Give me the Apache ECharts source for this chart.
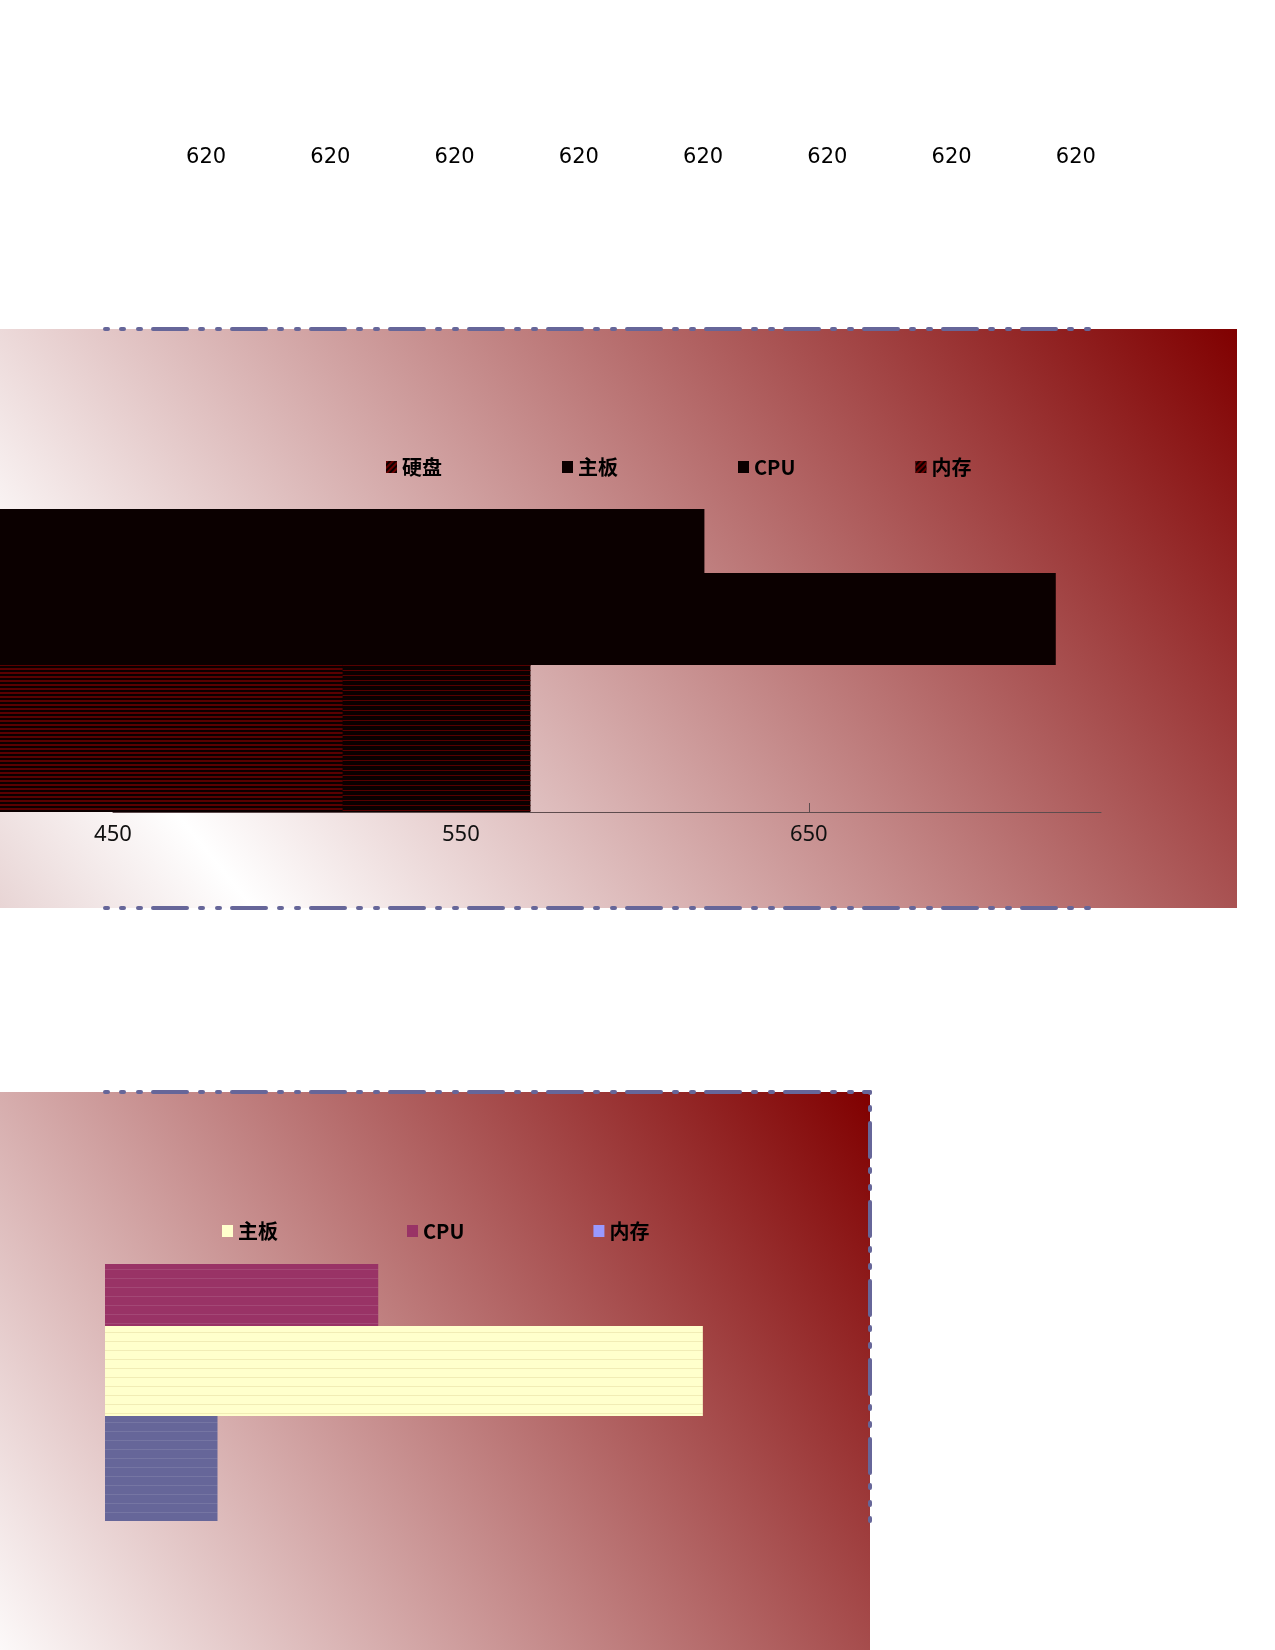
<!DOCTYPE html>
<html>
<head>
<meta charset="utf-8">
<script src="https://cdn.jsdelivr.net/npm/echarts@6/dist/echarts.min.js"></script>
<style>
  html, body { margin: 0; padding: 0; background: #fff; }
  #main { width: 1275px; height: 1650px; }
</style>
</head>
<body>
<div id="main"></div>
<script>
// 数据
var topLabels = ['620', '620', '620', '620', '620', '620', '620', '620'];
var slot = ['配件'];
var legendA = ['硬盘', '主板', 'CPU', '内存'];
var legendB = ['主板', 'CPU', '内存'];
var partsA = ['CPU', '主板', '内存'];
var valuesA = [620, 721, 570];
var diskValue = [516];
var partsB = ['CPU', '主板', '内存'];
var valuesB = [620, 721, 570];

// 样式
var barWidthA = [64, 92, 147];
var barWidthB = [62, 90, 105];
var colorsB = ['#993366', '#ffffcc', '#666699'];
var legendColorsB = ['#ffffcc', '#993366', '#9999ff'];
var ink = '#0b0000';

var dash = { color: '#666699', width: 4, type: [34, 13, 3, 14, 3, 12], dashOffset: 31 };
var memDecal = { symbol: 'rect', symbolSize: 1, dashArrayX: [1, 0], dashArrayY: [1, 4], rotation: 0, color: '#560000' };
var diskDecal = { symbol: 'rect', symbolSize: 1, dashArrayX: [1, 0], dashArrayY: [2, 2], rotation: 0, color: '#5a0000' };
var iconDecal = { symbol: 'rect', symbolSize: 1, dashArrayX: [1, 0], dashArrayY: [2, 2], rotation: -Math.PI / 4, color: '#6a0000' };
var noDecal = { symbol: 'rect', dashArrayX: [1, 0], dashArrayY: [1, 0], color: 'rgba(0,0,0,0)' };
var faintDecal = [
    { symbol: 'rect', symbolSize: 1, dashArrayX: [1, 0], dashArrayY: [1, 8], rotation: 0, color: 'rgba(255,255,255,0.10)' },
    { symbol: 'rect', symbolSize: 1, dashArrayX: [1, 0], dashArrayY: [1, 8], rotation: 0, color: 'rgba(190,170,100,0.22)' },
    { symbol: 'rect', symbolSize: 1, dashArrayX: [1, 0], dashArrayY: [1, 8], rotation: 0, color: 'rgba(255,255,255,0.10)' }
];

// 背景渐变, 右上角深红
function boxGradient(right, top, w, h, stops) {
    return {
        type: 'linear', global: true,
        x: right - w, y: top + h, x2: right, y2: top,
        colorStops: stops
    };
}
var stopsA = [
    { offset: 0, color: '#c99b9b' },
    { offset: 0.29, color: '#ffffff' },
    { offset: 1, color: '#800000' }
];
var stopsB = [
    { offset: 0, color: '#ffffff' },
    { offset: 1, color: '#800000' }
];

var hidden = { show: false };
var lineOnly = function (gridIndex, position, type) {
    return {
        gridIndex: gridIndex, type: type || 'value', position: position,
        axisLine: { show: true, onZero: false, lineStyle: dash },
        axisTick: hidden, axisLabel: hidden, splitLine: hidden
    };
};

var chart = echarts.init(document.getElementById('main'));

var series = [];
partsA.forEach(function (name, i) {
    series.push({
        name: name, type: 'bar', xAxisIndex: 5, yAxisIndex: 4,
        data: [valuesA[i]], barWidth: barWidthA[i], barGap: 0, clip: false,
        itemStyle: { color: ink, decal: name === '内存' ? memDecal : null }
    });
});
series.push({
    name: '硬盘', type: 'bar', xAxisIndex: 6, yAxisIndex: 5,
    data: diskValue, barWidth: 147, clip: false,
    itemStyle: { color: ink, decal: diskDecal }
});
partsB.forEach(function (name, i) {
    series.push({
        name: name, type: 'bar', xAxisIndex: 8, yAxisIndex: 7,
        data: [valuesB[i]], barWidth: barWidthB[i], barGap: 0,
        itemStyle: { color: colorsB[i], decal: faintDecal[i] }
    });
});

var legendText = { fontFamily: 'Noto Sans CJK SC', fontWeight: 'bold', fontSize: 20, color: '#000' };

var option = {
    animation: false,
    aria: { enabled: false },
    legend: [{
        left: 386, top: 457, padding: 0, itemGap: 120, itemWidth: 11, itemHeight: 12, icon: 'rect',
        textStyle: legendText,
        data: legendA.map(function (n) {
            return (n === '硬盘' || n === '内存') ? { name: n, itemStyle: { decal: iconDecal } } : n;
        })
    }, {
        left: 222, top: 1221, padding: 0, itemGap: 129, itemWidth: 11, itemHeight: 12, icon: 'rect',
        textStyle: legendText,
        data: legendB.map(function (n, i) {
            return { name: n, itemStyle: { color: legendColorsB[i], decal: noDecal } };
        })
    }],
    grid: [
        { left: 144, top: 80, width: 994, height: 59, outerBoundsMode: 'none' },
        { left: 0, top: 329, width: 1237, height: 579, show: true, borderWidth: 0, z: -1,
          backgroundColor: boxGradient(1237, 329, 1237, 1000, stopsA), outerBoundsMode: 'none' },
        { left: 0, top: 1092, width: 870, height: 600, show: true, borderWidth: 0, z: -1,
          backgroundColor: boxGradient(870, 1092, 870, 600, stopsB), outerBoundsMode: 'none' },
        { left: 105, top: 329, width: 995, height: 579, outerBoundsMode: 'none' },
        { left: 113, top: 509, width: 988, height: 303, outerBoundsMode: 'none' },
        { left: 113, top: 665, width: 988, height: 147, outerBoundsMode: 'none' },
        { left: 105, top: 1092, width: 765, height: 429, outerBoundsMode: 'none' },
        { left: 105, top: 1264, width: 765, height: 257, outerBoundsMode: 'none' }
    ],
    xAxis: [
        { gridIndex: 0, type: 'category', data: topLabels,
          axisLine: hidden, axisTick: hidden, splitLine: hidden,
          axisLabel: { interval: 0, fontFamily: 'DejaVu Sans', fontSize: 21, color: '#000', margin: 8 } },
        { gridIndex: 1, type: 'value', show: false },
        { gridIndex: 2, type: 'value', show: false },
        lineOnly(3, 'top'),
        lineOnly(3, 'bottom'),
        { gridIndex: 4, type: 'value', min: 450, max: 734, interval: 100,
          axisLine: { show: true, onZero: false, lineStyle: { color: '#5e4c4e', width: 1 } },
          axisTick: { show: true, inside: true, length: 9, lineStyle: { color: '#5e4c4e' } },
          axisLabel: { fontFamily: 'Noto Sans', fontSize: 22, color: '#111', margin: 12, showMaxLabel: false },
          splitLine: hidden },
        { gridIndex: 5, type: 'value', min: 450, max: 734, show: false },
        lineOnly(6, 'top'),
        { gridIndex: 7, type: 'value', min: 535, max: 773, show: false }
    ],
    yAxis: [
        { gridIndex: 0, type: 'value', show: false },
        { gridIndex: 1, type: 'value', show: false },
        { gridIndex: 2, type: 'value', show: false },
        { gridIndex: 3, type: 'value', show: false },
        { gridIndex: 4, type: 'category', data: slot, show: false },
        { gridIndex: 5, type: 'category', data: slot, show: false },
        lineOnly(6, 'right', 'category'),
        { gridIndex: 7, type: 'category', data: slot, show: false }
    ],
    series: series
};

chart.setOption(option);
</script>
</body>
</html>
